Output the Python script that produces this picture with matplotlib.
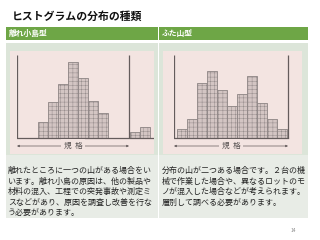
import numpy as np
import matplotlib
matplotlib.use('Agg')
import matplotlib.pyplot as plt
from matplotlib.patches import Rectangle

plt.rcParams['font.family'] = ['Noto Sans CJK JP', 'DejaVu Sans']

title = 'ヒストグラムの分布の種類'
panel_titles = ['離れ小島型', 'ふた山型']

# bar heights (pixels above the baseline)
island_main = [16, 36, 54, 76, 60, 37, 25]
island_small = [6, 11]
twin_peak = [9, 19, 55, 67, 48, 32, 44, 62, 35, 19, 9]

notes = [
    '離れたところに一つの山がある場合をい\n'
    'います。離れ小島の原因は、他の製品や\n'
    '材料の混入、工程での突発事故や測定ミ\n'
    'スなどがあり、原因を調査し改善を行な\n'
    'う必要があります。',
    '分布の山が二つある場合です。２台の機\n'
    '械で作業した場合や、異なるロットのモ\n'
    'ノが混入した場合などが考えられます。\n'
    '層別して調べる必要があります。',
]
page_no = '14'

W, H = 320, 240
fig = plt.figure(figsize=(W / 100, H / 100), dpi=100)

# background layer in pixel coordinates
bg = fig.add_axes([0, 0, 1, 1])
bg.set_xlim(0, W)
bg.set_ylim(H, 0)
bg.axis('off')

green = '#6ea646'
bg.text(12, 16, title, fontsize=7.8, fontweight='bold', va='center', color='#111111')

for x0, x1, name in [(6, 157.5, panel_titles[0]), (159, 308, panel_titles[1])]:
    bg.add_patch(Rectangle((x0, 27), x1 - x0, 13, color=green, lw=0))
    bg.text(x0 + 3, 33.5, name, fontsize=5.6, fontweight='bold', color='white', va='center')
    bg.add_patch(Rectangle((x0, 43), x1 - x0, 112, color='#dce5d9', lw=0))
    bg.add_patch(Rectangle((x0, 155), x1 - x0, 63, color='#e8ece6', lw=0))

bg.add_patch(Rectangle((10, 51), 144, 103, color='#f3e4e1', lw=0))
bg.add_patch(Rectangle((163, 51), 139, 103, color='#f3e4e1', lw=0))

for x, txt in [(8, notes[0]), (162, notes[1])]:
    bg.text(x, 166, txt, fontsize=5.75, va='top', ha='left', color='#222222',
            linespacing=1.22)

bg.text(293, 230, page_no, fontsize=3.5, color='#888888', ha='center', va='center')

bar_face = '#d3c5c3'
bar_edge = '#8d8484'
line_col = '#645c5c'


def hist_axes(x0, width, spec_hi, base_end, bars, start):
    # 1 x unit = 10 px, 1 y unit = 1 px; baseline at y=138 px
    ax = fig.add_axes([x0 / W, 1 - 150 / H, width / W, 100 / H])
    ax.set_xlim(0, width / 10)
    ax.set_ylim(-12, 88)
    ax.axis('off')
    for vals, s in bars:
        pos = s + np.arange(len(vals))
        ax.bar(pos, vals, width=1, align='edge', color=bar_face,
               edgecolor=bar_edge, linewidth=0.6, hatch='++++')
    ax.plot([0, base_end], [0, 0], color=line_col, lw=0.9)
    ax.vlines([0, spec_hi], 0, 83, color=line_col, lw=0.9)
    ax.annotate('', xy=(0, -8), xytext=(spec_hi, -8),
                arrowprops=dict(arrowstyle='<|-|>', color=line_col, lw=0.5,
                                mutation_scale=3, shrinkA=0, shrinkB=0))
    ax.text(spec_hi / 2, -8, '規  格', fontsize=5.5, color='#555050',
            ha='center', va='center',
            bbox=dict(boxstyle='square,pad=0.4', fc='#f3e4e1', ec='none'))
    return ax


plt.rcParams['hatch.color'] = '#bdb0ae'
plt.rcParams['hatch.linewidth'] = 0.3

hist_axes(17, 137, 11.2, 13.6, [(island_main, 2.1), (island_small, 11.3)], 0)
hist_axes(174, 120, 11.4, 11.4, [(twin_peak, 0.3)], 0)

fig.savefig('out.png', dpi=100)
